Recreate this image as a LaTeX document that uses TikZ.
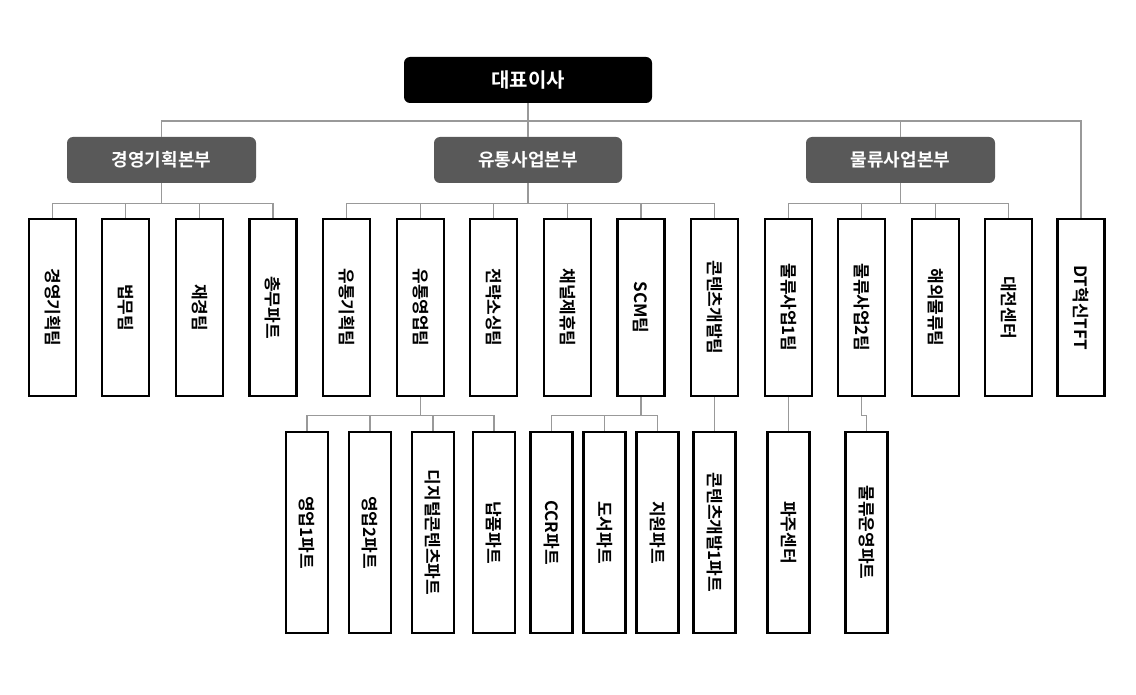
\documentclass[tikz,border=0pt]{standalone}
\usepackage{fontspec}
\setmainfont{Noto Sans CJK KR Bold}
\begin{document}
\begin{tikzpicture}[x=1pt,y=-1pt,
  conn/.style={draw=black!40,line width=1.1pt},
  ub/.style={draw=black,line width=2.3pt,fill=white,inner sep=0pt},
  vt/.style={rotate=-90,font=\fontsize{17}{17}\selectfont,inner sep=0pt},
  div/.style={fill=black!65,rounded corners=6pt,text=white,font=\fontsize{18}{18}\selectfont,inner sep=0pt}]
\useasboundingbox (0,0) rectangle (1136,695);
\node[fill=black,rounded corners=6pt,text=white,font=\fontsize{20}{20}\selectfont,minimum width=248pt,minimum height=46pt,inner sep=0pt] (ceo) at (528,80) {대표이사};
\node[div,minimum width=189pt,minimum height=46pt] (d1) at (161.5,160) {경영기획본부};
\node[div,minimum width=188pt,minimum height=46pt] (d2) at (528,160) {유통사업본부};
\node[div,minimum width=189pt,minimum height=46pt] (d3) at (900.5,160) {물류사업본부};
% row 1
\foreach \n/\cx/\t in {a1/52.5/경영기획팀,a2/125.5/법무팀,a3/199.5/재경팀,a4/273/총무파트,
  b1/346.5/유통기획팀,b2/420.5/유통영업팀,b3/493.5/전략소싱팀,b4/567.5/채널제휴팀,b5/641/SCM팀,b6/714.5/콘텐츠개발팀,
  c1/788.5/물류사업1팀,c2/861.5/물류사업2팀,c3/935.5/해외물류팀,c4/1008.5/대전센터,tft/1081/DT혁신TFT}{
  \node[ub,minimum width=47pt,minimum height=177pt] (\n) at (\cx,307.5) {};
  \node[vt] at (\n) {\t};
}
% row 2
\foreach \n/\cx/\t in {e1/307/영업1파트,e2/370/영업2파트,e3/433/디지털콘텐츠파트,e4/494/납품파트,
  f1/551.5/CCR파트,f2/604.5/도서파트,f3/657.5/지원파트,g1/714.5/콘텐츠개발1파트,h1/788.5/파주센터,i1/866.5/물류운영파트}{
  \node[ub,minimum width=42pt,minimum height=201pt] (\n) at (\cx,532.5) {};
  \node[vt] at (\n) {\t};
}
% connectors
\coordinate (top) at (528,121);
\draw[conn] (ceo.south) -- (top);
\foreach \d in {d1,d2,d3,tft}{\draw[conn] (top) -| (\d.north);}
\foreach \d/\k in {d1/{a1,a2,a3,a4},d2/{b1,b2,b3,b4,b5,b6},d3/{c1,c2,c3,c4}}{
  \foreach \c in \k {\draw[conn] (\d.south) -- ++(0,20) -| (\c.north);}
}
\foreach \p/\k in {b2/{e1,e2,e3,e4},b5/{f1,f2,f3}}{
  \foreach \c in \k {\draw[conn] (\p.south) -- ++(0,18) -| (\c.north);}
}
\draw[conn] (b6.south) -- (g1.north);
\draw[conn] (c1.south) -- (h1.north);
\draw[conn] (c2.south) -- ++(0,18) -| (i1.north);
\end{tikzpicture}
\end{document}
